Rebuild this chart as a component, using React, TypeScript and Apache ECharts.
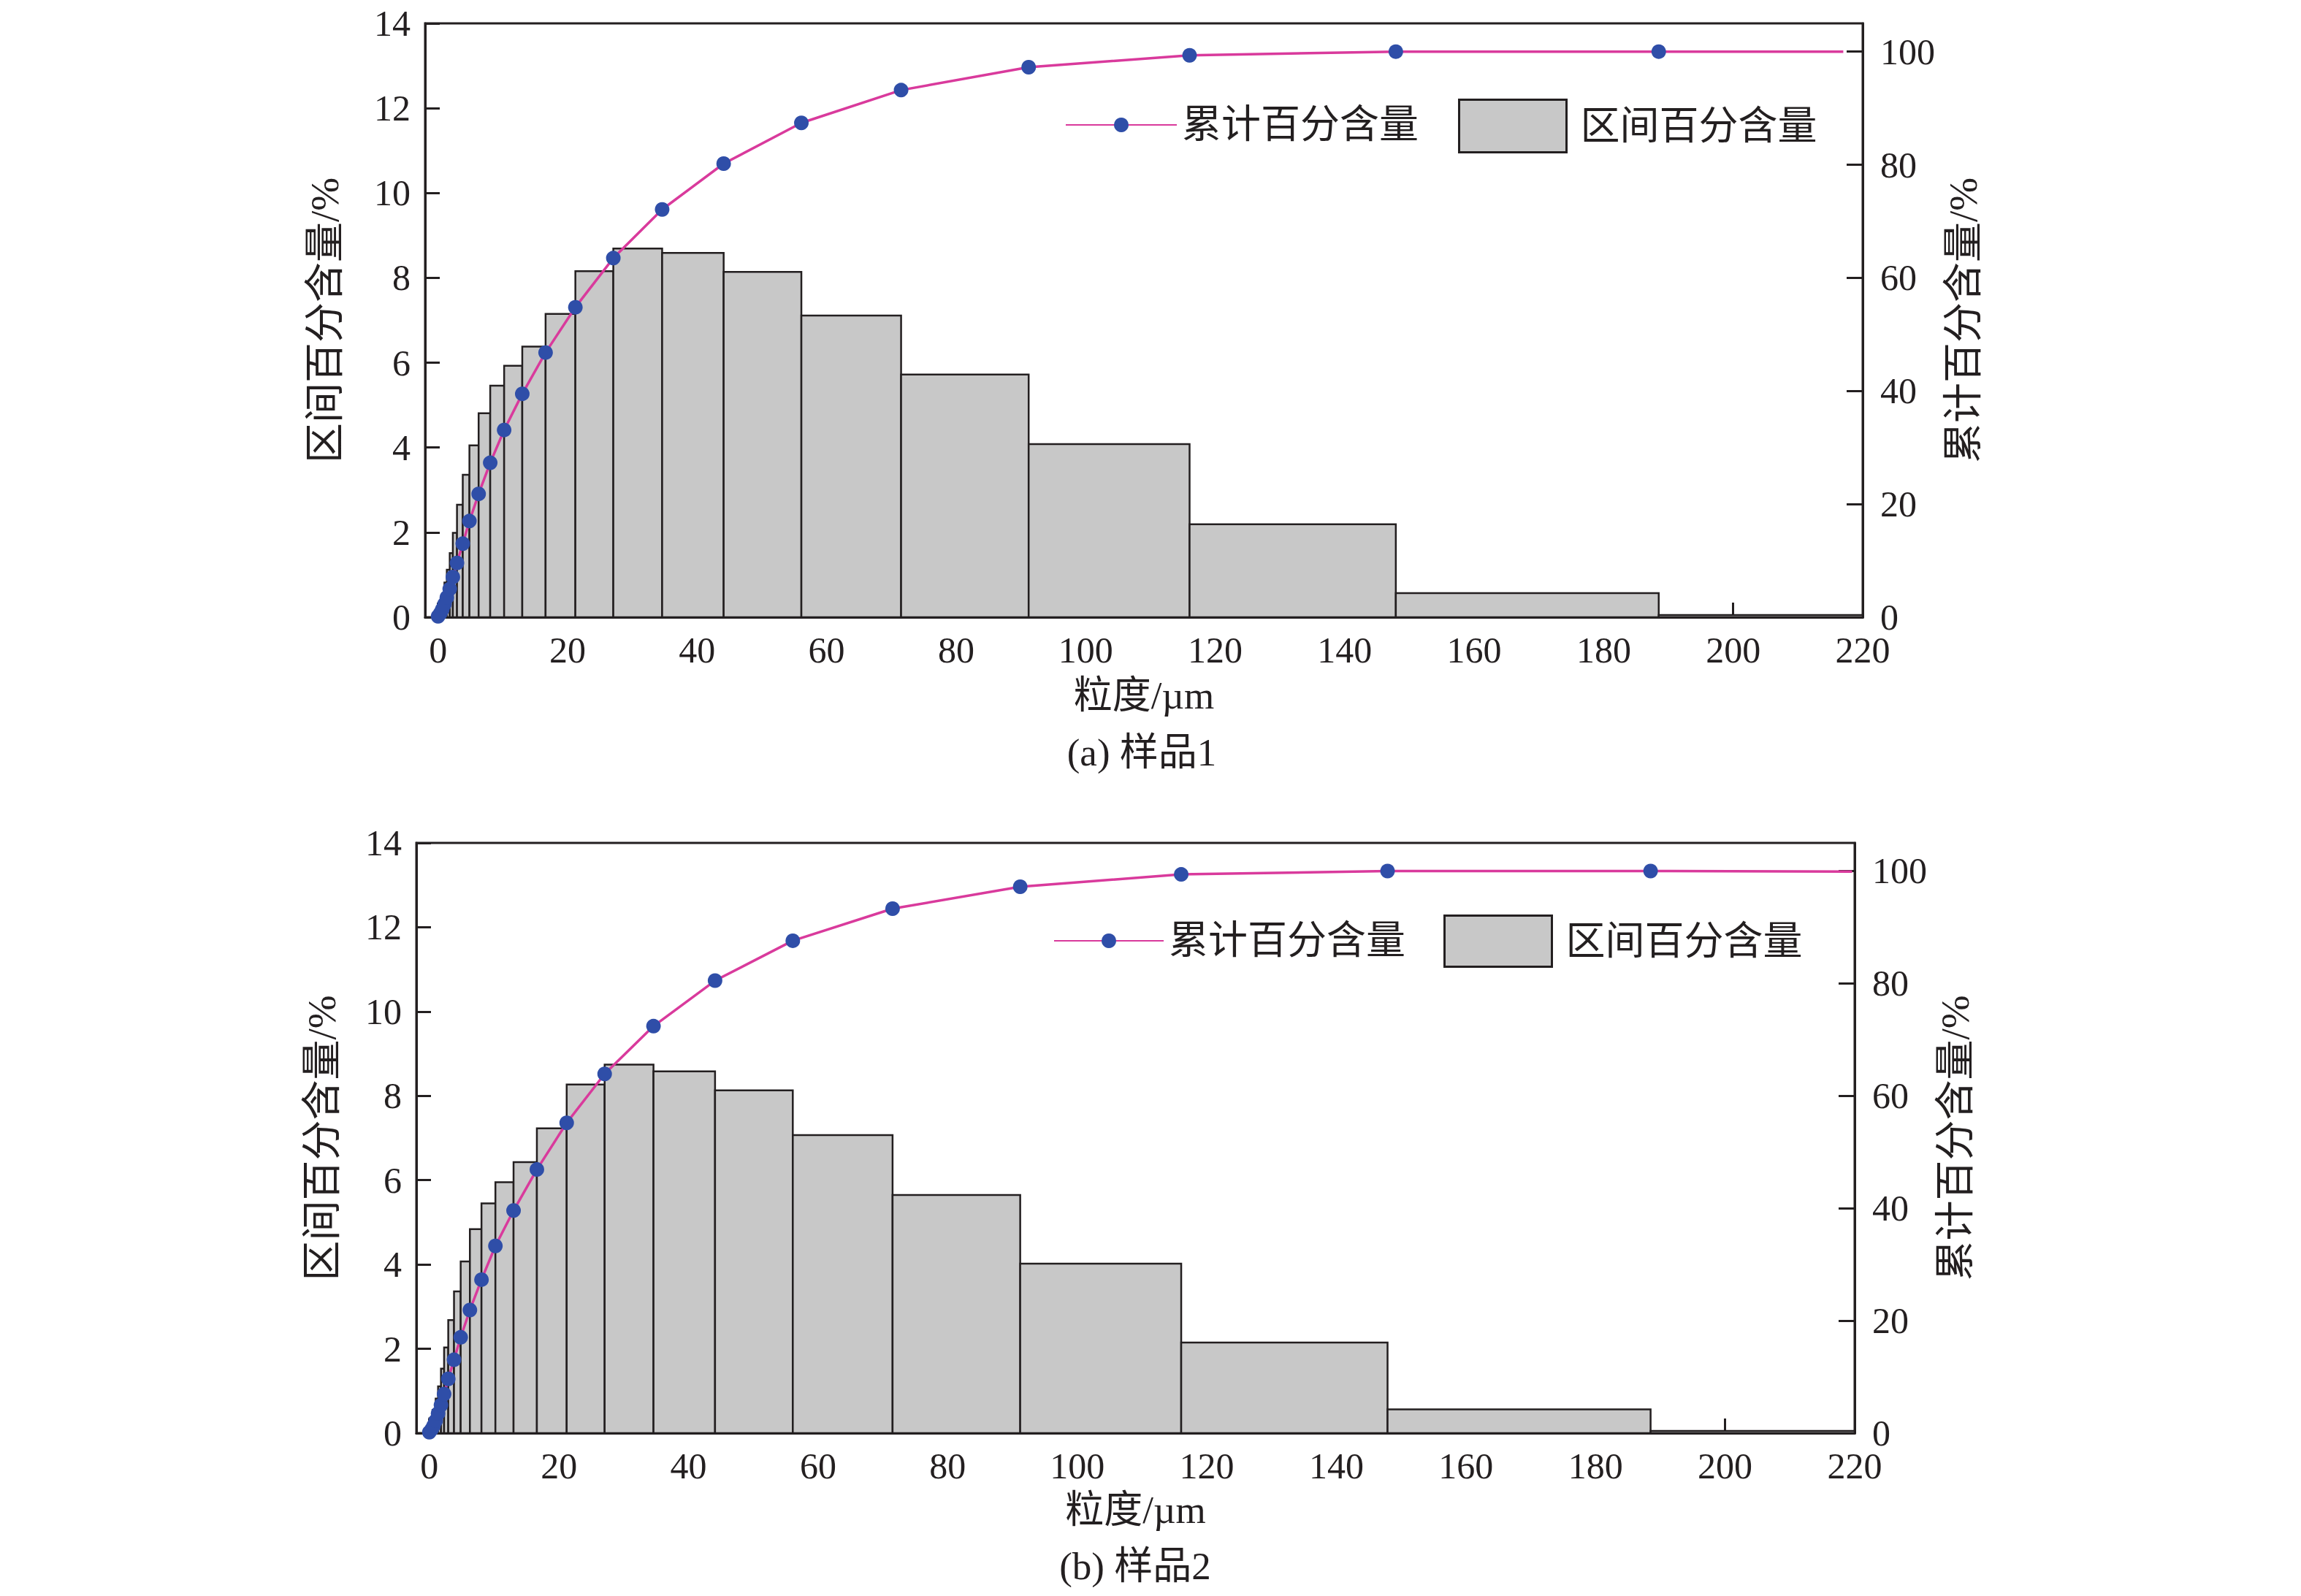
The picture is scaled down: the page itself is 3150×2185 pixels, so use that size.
import React, { useEffect, useRef } from "react";
import * as echarts from "echarts";

// ---- data ----
const binEdges = [0, 0.5, 0.98, 1.35, 1.8, 2.28, 2.92, 3.81, 4.84, 6.26, 8.05, 10.2, 13.0, 16.6, 21.2, 27.06, 34.6, 44.1, 56.1, 71.5, 91.2, 116.05, 147.9, 188.5, 220];
const interval1 = [0.23, 0.5, 0.82, 1.12, 1.51, 1.99, 2.65, 3.36, 4.05, 4.81, 5.46, 5.93, 6.38, 7.15, 8.16, 8.69, 8.59, 8.14, 7.11, 5.72, 4.08, 2.19, 0.57, 0.05];
const interval2 = [0.35, 0.55, 0.82, 1.11, 1.53, 2.03, 2.68, 3.36, 4.07, 4.84, 5.45, 5.95, 6.43, 7.23, 8.27, 8.74, 8.58, 8.13, 7.07, 5.65, 4.02, 2.15, 0.565, 0.05];
const cumX = [0, 0.35, 0.65, 0.98, 1.35, 1.8, 2.28, 2.92, 3.81, 4.84, 6.26, 8.05, 10.2, 13.0, 16.6, 21.2, 27.06, 34.6, 44.1, 56.1, 71.5, 91.2, 116.05, 147.9, 188.5];
const cum1 = [0.15, 0.7, 1.4, 2.3, 3.5, 5.0, 7.1, 9.6, 13.0, 17.0, 21.8, 27.3, 33.1, 39.5, 46.8, 54.8, 63.5, 72.1, 80.2, 87.4, 93.2, 97.25, 99.35, 100, 100];
const cum2 = [0.15, 0.66, 1.3, 2.2, 3.5, 5.0, 6.95, 9.65, 13.05, 17.05, 21.9, 27.3, 33.3, 39.6, 46.9, 55.2, 63.9, 72.4, 80.5, 87.6, 93.3, 97.2, 99.4, 100, 100];
const lineEnd1: [number, number] = [217, 100];
const lineEnd2: [number, number] = [219.6, 99.9];
const xTickValues = [0, 20, 40, 60, 80, 100, 120, 140, 160, 180, 200, 220];
const rightTickValues = [0, 20, 40, 60, 80, 100];
const nameCum = "累计百分含量";
const nameInt = "区间百分含量";
const xName = "粒度/µm";
const yLeftName = "区间百分含量/%";
const yRightName = "累计百分含量/%";
const captions = ["(a) 样品1", "(b) 样品2"];

const FONT = '"Liberation Serif", "Noto Sans CJK SC", serif';
const INK = "#231f20";
const BAR_FILL = "#c8c8c8";
const LINE_COLOR = "#d93a9c";
const DOT_COLOR = "#2f4ea8";

function barData(heights: number[]) {
  return heights.map((h, i) => [binEdges[i], binEdges[i + 1], h]);
}
function lineData(cum: number[], end: [number, number]) {
  const d: any[] = cumX.map((x, i) => [x, cum[i]]);
  d.push({ value: end, symbol: "none" });
  return d;
}

export default function App() {
  const ref = useRef<HTMLDivElement>(null);
  useEffect(() => {
    if (!ref.current) return;
    const chart = echarts.init(ref.current, undefined, { renderer: "svg" });

    const grids = [
      { left: 582, right: 600, top: 32, height: 813 },
      { left: 570, right: 611, top: 1154, height: 808 },
    ];

    const xAxes = grids.map((_, gi) => ({
      type: "value",
      gridIndex: gi,
      min: -2,
      max: 220,
      name: xName,
      nameLocation: "middle",
      nameGap: gi === 0 ? 80 : 78,
      nameTextStyle: { fontFamily: FONT, fontSize: 53, color: INK },
      axisLine: { show: true, onZero: false, lineStyle: { color: INK, width: 3 } },
      axisTick: { show: true, inside: true, length: 20, customValues: xTickValues, lineStyle: { color: INK, width: 3 } },
      axisLabel: { show: true, customValues: xTickValues, margin: 20, fontFamily: FONT, fontSize: 50, color: INK },
      splitLine: { show: false },
    }));

    const yAxes: any[] = [];
    grids.forEach((_, gi) => {
      yAxes.push({
        type: "value",
        gridIndex: gi,
        position: "left",
        min: 0,
        max: 14,
        interval: 2,
        name: yLeftName,
        nameLocation: "middle",
        nameRotate: 90,
        nameGap: gi === 0 ? 110 : 102,
        nameTextStyle: { fontFamily: FONT, fontSize: 55, color: INK },
        axisLine: { show: true, onZero: false, lineStyle: { color: INK, width: 3 } },
        axisTick: { show: true, inside: true, length: 20, lineStyle: { color: INK, width: 3 } },
        axisLabel: { margin: 20, fontFamily: FONT, fontSize: 50, color: INK },
        splitLine: { show: false },
      });
      yAxes.push({
        type: "value",
        gridIndex: gi,
        position: "right",
        min: 0,
        max: 105,
        name: yRightName,
        nameLocation: "middle",
        nameRotate: 90,
        nameGap: gi === 0 ? 108 : 106,
        nameTextStyle: { fontFamily: FONT, fontSize: 55, color: INK },
        axisLine: { show: true, onZero: false, lineStyle: { color: INK, width: 3 } },
        axisTick: { show: true, inside: true, length: 22, customValues: rightTickValues, lineStyle: { color: INK, width: 3 } },
        axisLabel: { customValues: rightTickValues, margin: 24, fontFamily: FONT, fontSize: 50, color: INK },
        splitLine: { show: false },
      });
    });

    const renderBar = (params: any, api: any) => {
      const x0 = api.value(0);
      const x1 = api.value(1);
      const h = api.value(2);
      const p0 = api.coord([x0, h]);
      const p1 = api.coord([x1, 0]);
      return {
        type: "rect",
        shape: { x: p0[0], y: p0[1], width: p1[0] - p0[0], height: p1[1] - p0[1] },
        style: { fill: BAR_FILL, stroke: INK, lineWidth: 2.5 },
      };
    };

    const series: any[] = [];
    [interval1, interval2].forEach((heights, gi) => {
      series.push({
        type: "custom",
        name: nameInt,
        xAxisIndex: gi,
        yAxisIndex: gi * 2,
        renderItem: renderBar,
        data: barData(heights),
        encode: { x: [0, 1], y: 2 },
        itemStyle: { color: BAR_FILL, borderColor: INK, borderWidth: 3 },
        z: 1,
      });
    });
    [[cum1, lineEnd1], [cum2, lineEnd2]].forEach(([cum, end]: any, gi) => {
      series.push({
        type: "line",
        name: nameCum,
        xAxisIndex: gi,
        yAxisIndex: gi * 2 + 1,
        data: lineData(cum, end),
        symbol: "circle",
        symbolSize: 20,
        showSymbol: true,
        itemStyle: { color: DOT_COLOR },
        lineStyle: { color: LINE_COLOR, width: 3.5 },
        z: 5,
      });
    });

    const legendText = { fontFamily: FONT, fontSize: 54, color: INK };
    const legends = [
      { left: 1458, top: 144, itemWidth: 152, itemHeight: 25, padding: 0, data: [nameCum], textStyle: { ...legendText, padding: [0, 0, 0, 2] } },
      { left: 1996, top: 135, itemWidth: 147, itemHeight: 72, padding: 0, data: [{ name: nameInt, icon: "rect", itemStyle: { color: BAR_FILL, borderColor: INK, borderWidth: 3 } }], textStyle: { ...legendText, padding: [0, 0, 0, 14] } },
      { left: 1442, top: 1261, itemWidth: 150, itemHeight: 25, padding: 0, data: [nameCum], textStyle: { ...legendText, padding: [0, 0, 0, 2] } },
      { left: 1976, top: 1252, itemWidth: 147, itemHeight: 70, padding: 0, data: [{ name: nameInt, icon: "rect", itemStyle: { color: BAR_FILL, borderColor: INK, borderWidth: 3 } }], textStyle: { ...legendText, padding: [0, 0, 0, 14] } },
    ].map((l) => ({ ...l, selectedMode: false, orient: "horizontal" }));

    const captionPos = [
      [1563, 1030],
      [1554, 2144],
    ];
    const graphic = captions.map((t, i) => ({
      type: "text",
      x: captionPos[i][0],
      y: captionPos[i][1],
      style: {
        text: t,
        fontFamily: FONT,
        fontSize: 53,
        fill: INK,
        textAlign: "center",
        textVerticalAlign: "middle",
        align: "center",
        verticalAlign: "middle",
      },
    }));

    chart.setOption({
      animation: false,
      backgroundColor: "#ffffff",
      grid: grids.map((g) => ({ ...g, show: true, borderColor: INK, borderWidth: 3, backgroundColor: "transparent", containLabel: false })),
      xAxis: xAxes,
      yAxis: yAxes,
      legend: legends,
      series,
      graphic,
    });

    return () => chart.dispose();
  }, []);

  return <div ref={ref} style={{ position: "absolute", left: 0, top: 0, width: 3150, height: 2185 }} />;
}
